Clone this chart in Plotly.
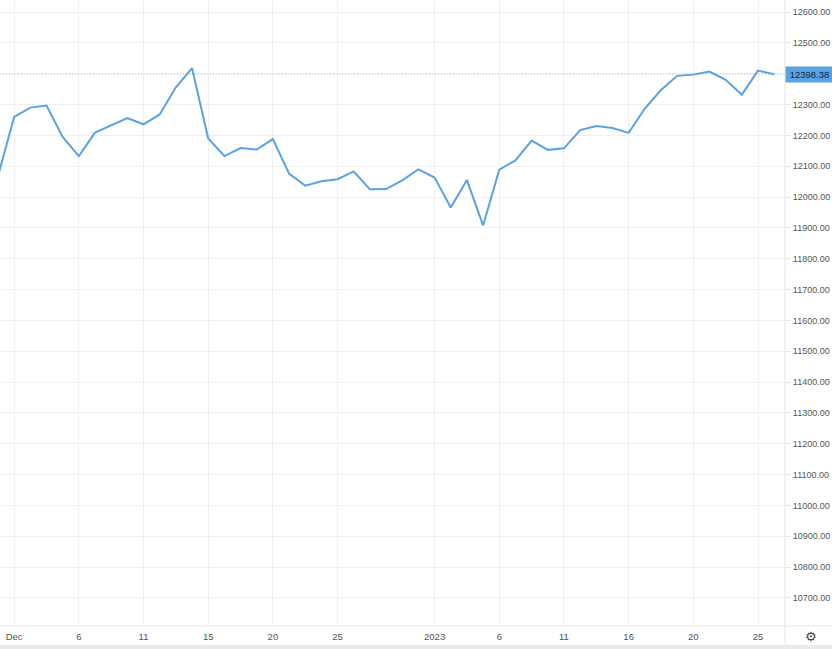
import plotly.graph_objects as go

# ---- data ----
values = [
    12068, 12260, 12290, 12297, 12195, 12133, 12209, 12233, 12256, 12236,
    12268, 12356, 12418, 12190, 12133, 12159, 12154, 12188, 12076, 12037,
    12051, 12058, 12083, 12025, 12026, 12054, 12090, 12063, 11966, 12055,
    11908, 12089, 12119, 12183, 12153, 12158, 12217, 12230, 12224, 12208,
    12287, 12347, 12393, 12397, 12407, 12380, 12332, 12410, 12398.38,
]
bar_index = list(range(len(values)))
tick_index = [1, 5, 9, 13, 17, 21, 27, 31, 35, 39, 43, 47]
tick_labels = ["Dec", "6", "11", "15", "20", "25", "2023", "6", "11", "16", "20", "25"]
y_ticks = list(range(10700, 12601, 100))
last_value = values[-1]

LINE = "#5aa2e6"
GRID = "#f0f0f0"
TXT = "#555555"
FONT = "Liberation Sans"

fig = go.Figure()
fig.add_trace(go.Scatter(
    x=bar_index, y=values, mode="lines",
    line=dict(color=LINE, width=2),
    hoverinfo="skip", showlegend=False,
))

# dotted last-price line
fig.add_shape(type="line", xref="paper", x0=0, x1=1, yref="y",
              y0=last_value, y1=last_value,
              line=dict(color="rgba(90,162,230,0.6)", width=1, dash="1px,2px"))

# right axis border extending into the x-axis strip
fig.add_shape(type="line", xref="paper", x0=1, x1=1, yref="paper",
              y0=-19 / 626, y1=1, line=dict(color="#e6e6e6", width=1))
# bottom border of plot across the full width
fig.add_shape(type="line", xref="paper", x0=0, x1=832 / 785, yref="paper",
              y0=0, y1=0, line=dict(color="#e6e6e6", width=1))
# grey strip at the bottom
fig.add_shape(type="rect", xref="paper", x0=0, x1=832 / 785, yref="paper",
              y0=-24 / 626, y1=-19 / 626, line=dict(width=0),
              fillcolor="#ebebeb")

# last-price label
fig.add_annotation(
    xref="paper", x=1, xanchor="left", yref="y", y=last_value,
    text=f"{last_value:.2f}", showarrow=False,
    font=dict(family=FONT, size=9.5, color="#14243a"),
    bgcolor=LINE, width=45, height=13, align="center", borderpad=1,
)
# settings gear
fig.add_annotation(
    xref="paper", x=1 + 26 / 785, xanchor="center",
    yref="paper", y=-10 / 626, yanchor="middle",
    text="⚙", showarrow=False,
    font=dict(family="DejaVu Sans", size=13, color="#444444"),
)

fig.update_layout(
    width=832, height=649,
    margin=dict(l=0, r=47, t=0, b=23),
    paper_bgcolor="white", plot_bgcolor="white",
    xaxis=dict(
        range=[0.124, 48.67], tickmode="array",
        tickvals=tick_index, ticktext=tick_labels,
        showgrid=True, gridcolor=GRID, gridwidth=1,
        zeroline=False, showline=False,
        ticks="outside", ticklen=2, tickcolor="rgba(0,0,0,0)",
        tickfont=dict(family=FONT, size=9.5, color=TXT),
    ),
    yaxis=dict(
        side="right", range=[10609, 12639], tickmode="array",
        tickvals=y_ticks, ticktext=[f"{v:.2f}" for v in y_ticks],
        showgrid=True, gridcolor=GRID, gridwidth=1,
        zeroline=False, showline=False,
        ticks="outside", ticklen=5, tickcolor="#e6e6e6",
        tickfont=dict(family=FONT, size=9, color=TXT),
    ),
)

fig.write_html(
    "out.html",
    config={"displayModeBar": False},
    post_script="document.body.style.margin='0';document.body.style.overflow='hidden';",
)
